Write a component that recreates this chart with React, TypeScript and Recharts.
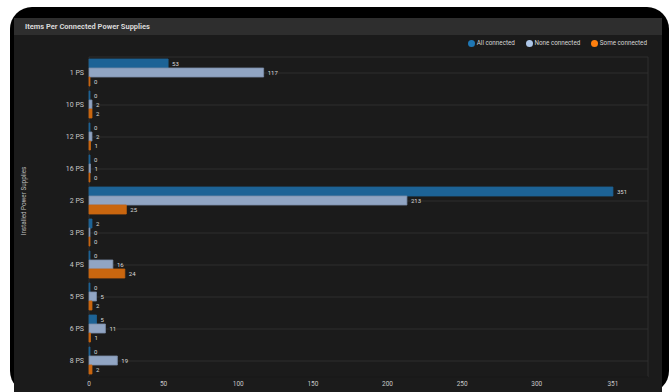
import React from 'react';
import { BarChart, Bar, XAxis, YAxis, CartesianGrid, LabelList, Legend } from 'recharts';

const categories = ['1 PS', '10 PS', '12 PS', '16 PS', '2 PS', '3 PS', '4 PS', '5 PS', '6 PS', '8 PS'];
const allConnected = [53, 0, 0, 0, 351, 2, 0, 0, 5, 0];
const noneConnected = [117, 2, 2, 1, 213, 0, 16, 5, 11, 19];
const someConnected = [0, 2, 1, 0, 25, 0, 24, 2, 1, 2];
const xTicks = [0, 50, 100, 150, 200, 250, 300, 351];
const gridValues = [50, 100, 150, 200, 250, 300];
const xMax = 374.5;

const seriesInfo = [
  { key: 'all', name: 'All connected', dot: '#1f77b4', fill: '#1d6396', stroke: '#1d6396' },
  { key: 'none', name: 'None connected', dot: '#aec7e8', fill: '#91a5c3', stroke: '#7b8da8' },
  { key: 'some', name: 'Some connected', dot: '#ff7f0e', fill: '#c9660f', stroke: '#c9660f' },
];

const data = categories.map((name, i) => ({
  name,
  all: allConnected[i],
  none: noneConnected[i],
  some: someConnected[i],
}));

const FONT = 'Roboto, "Noto Sans", sans-serif';

const LegendContent = () => (
  <div style={{ display: 'flex', alignItems: 'center', fontFamily: FONT, fontSize: 6.3, color: '#d6d6d6', lineHeight: '11px', whiteSpace: 'nowrap' }}>
    {seriesInfo.map((s, i) => (
      <div key={s.key} style={{ display: 'flex', alignItems: 'center', marginLeft: i === 0 ? 0 : 11 }}>
        <span style={{ display: 'inline-block', width: 7, height: 7, borderRadius: '50%', background: s.dot, marginRight: 1.5 }} />
        <span>{s.name}</span>
      </div>
    ))}
  </div>
);

export default function App() {
  return (
    <div style={{ position: 'absolute', left: 0, top: 0, width: 669, height: 392, background: '#ffffff', overflow: 'hidden', fontFamily: FONT }}>
      <div style={{ position: 'absolute', left: 10, top: 7, width: 659, height: 386, background: '#000', borderRadius: 22 }} />
      <div style={{ position: 'absolute', left: 14, top: 18, width: 648, height: 380, background: '#1b1b1b', borderTopLeftRadius: 2, borderTopRightRadius: 2 }} />
      <div style={{ position: 'absolute', left: 14, top: 18, width: 648, height: 17, background: '#2e2e2e' }} />
      <div style={{ position: 'absolute', left: 25, top: 18, height: 17, lineHeight: '17px', fontSize: 7.5, fontWeight: 700, color: '#d9d9d9' }}>
        Items Per Connected Power Supplies
      </div>
      <div style={{ position: 'absolute', left: 0, top: 0 }}>
        <BarChart
          width={669}
          height={392}
          data={data}
          layout="vertical"
          margin={{ top: 57, right: 21, bottom: 0, left: 0 }}
          barCategoryGap={2}
          barGap={0}
        >
          <CartesianGrid xAxisId="grid" stroke="#2e2e2e" strokeWidth={1} />
          <XAxis
            xAxisId="grid"
            type="number"
            domain={[0, xMax]}
            ticks={gridValues}
            interval={0}
            hide
          />
          <XAxis
            type="number"
            domain={[0, xMax]}
            ticks={xTicks}
            interval={0}
            height={15}
            tickSize={0}
            tickMargin={4}
            axisLine={{ stroke: '#0e0e0e' }}
            tick={{ fill: '#c8c8c8', fontSize: 6.5, fontFamily: FONT }}
          />
          <YAxis
            type="category"
            dataKey="name"
            width={89}
            interval={0}
            tickSize={0}
            tickMargin={5}
            axisLine={false}
            tick={{ fill: '#c8c8c8', fontSize: 7, fontFamily: FONT }}
            label={{
              content: (props: any) => {
                const vb = props.viewBox || {};
                const cx = (vb.x || 0) + 24;
                const cy = (vb.y || 0) + (vb.height || 0) / 2 - 16;
                return (
                  <text
                    x={cx}
                    y={cy}
                    transform={`rotate(-90, ${cx}, ${cy})`}
                    textAnchor="middle"
                    dominantBaseline="central"
                    fill="#bdbdbd"
                    fontSize={6.3}
                    fontFamily={FONT}
                  >
                    Installed Power Supplies
                  </text>
                );
              },
            }}
          />
          <Legend
            verticalAlign="middle"
            align="center"
            layout="horizontal"
            content={<LegendContent />}
            wrapperStyle={{ top: 38, right: 22, left: 'auto', width: 'auto', height: 'auto' }}
          />
          {seriesInfo.map((s) => (
            <Bar
              key={s.key}
              dataKey={s.key}
              name={s.name}
              fill={s.fill}
              stroke={s.stroke}
              strokeWidth={0.8}
              minPointSize={1}
              isAnimationActive={false}
            >
              <LabelList dataKey={s.key} position="right" offset={4} fill="#dadada" fontSize={6} fontFamily={FONT} />
            </Bar>
          ))}
        </BarChart>
      </div>
    </div>
  );
}
